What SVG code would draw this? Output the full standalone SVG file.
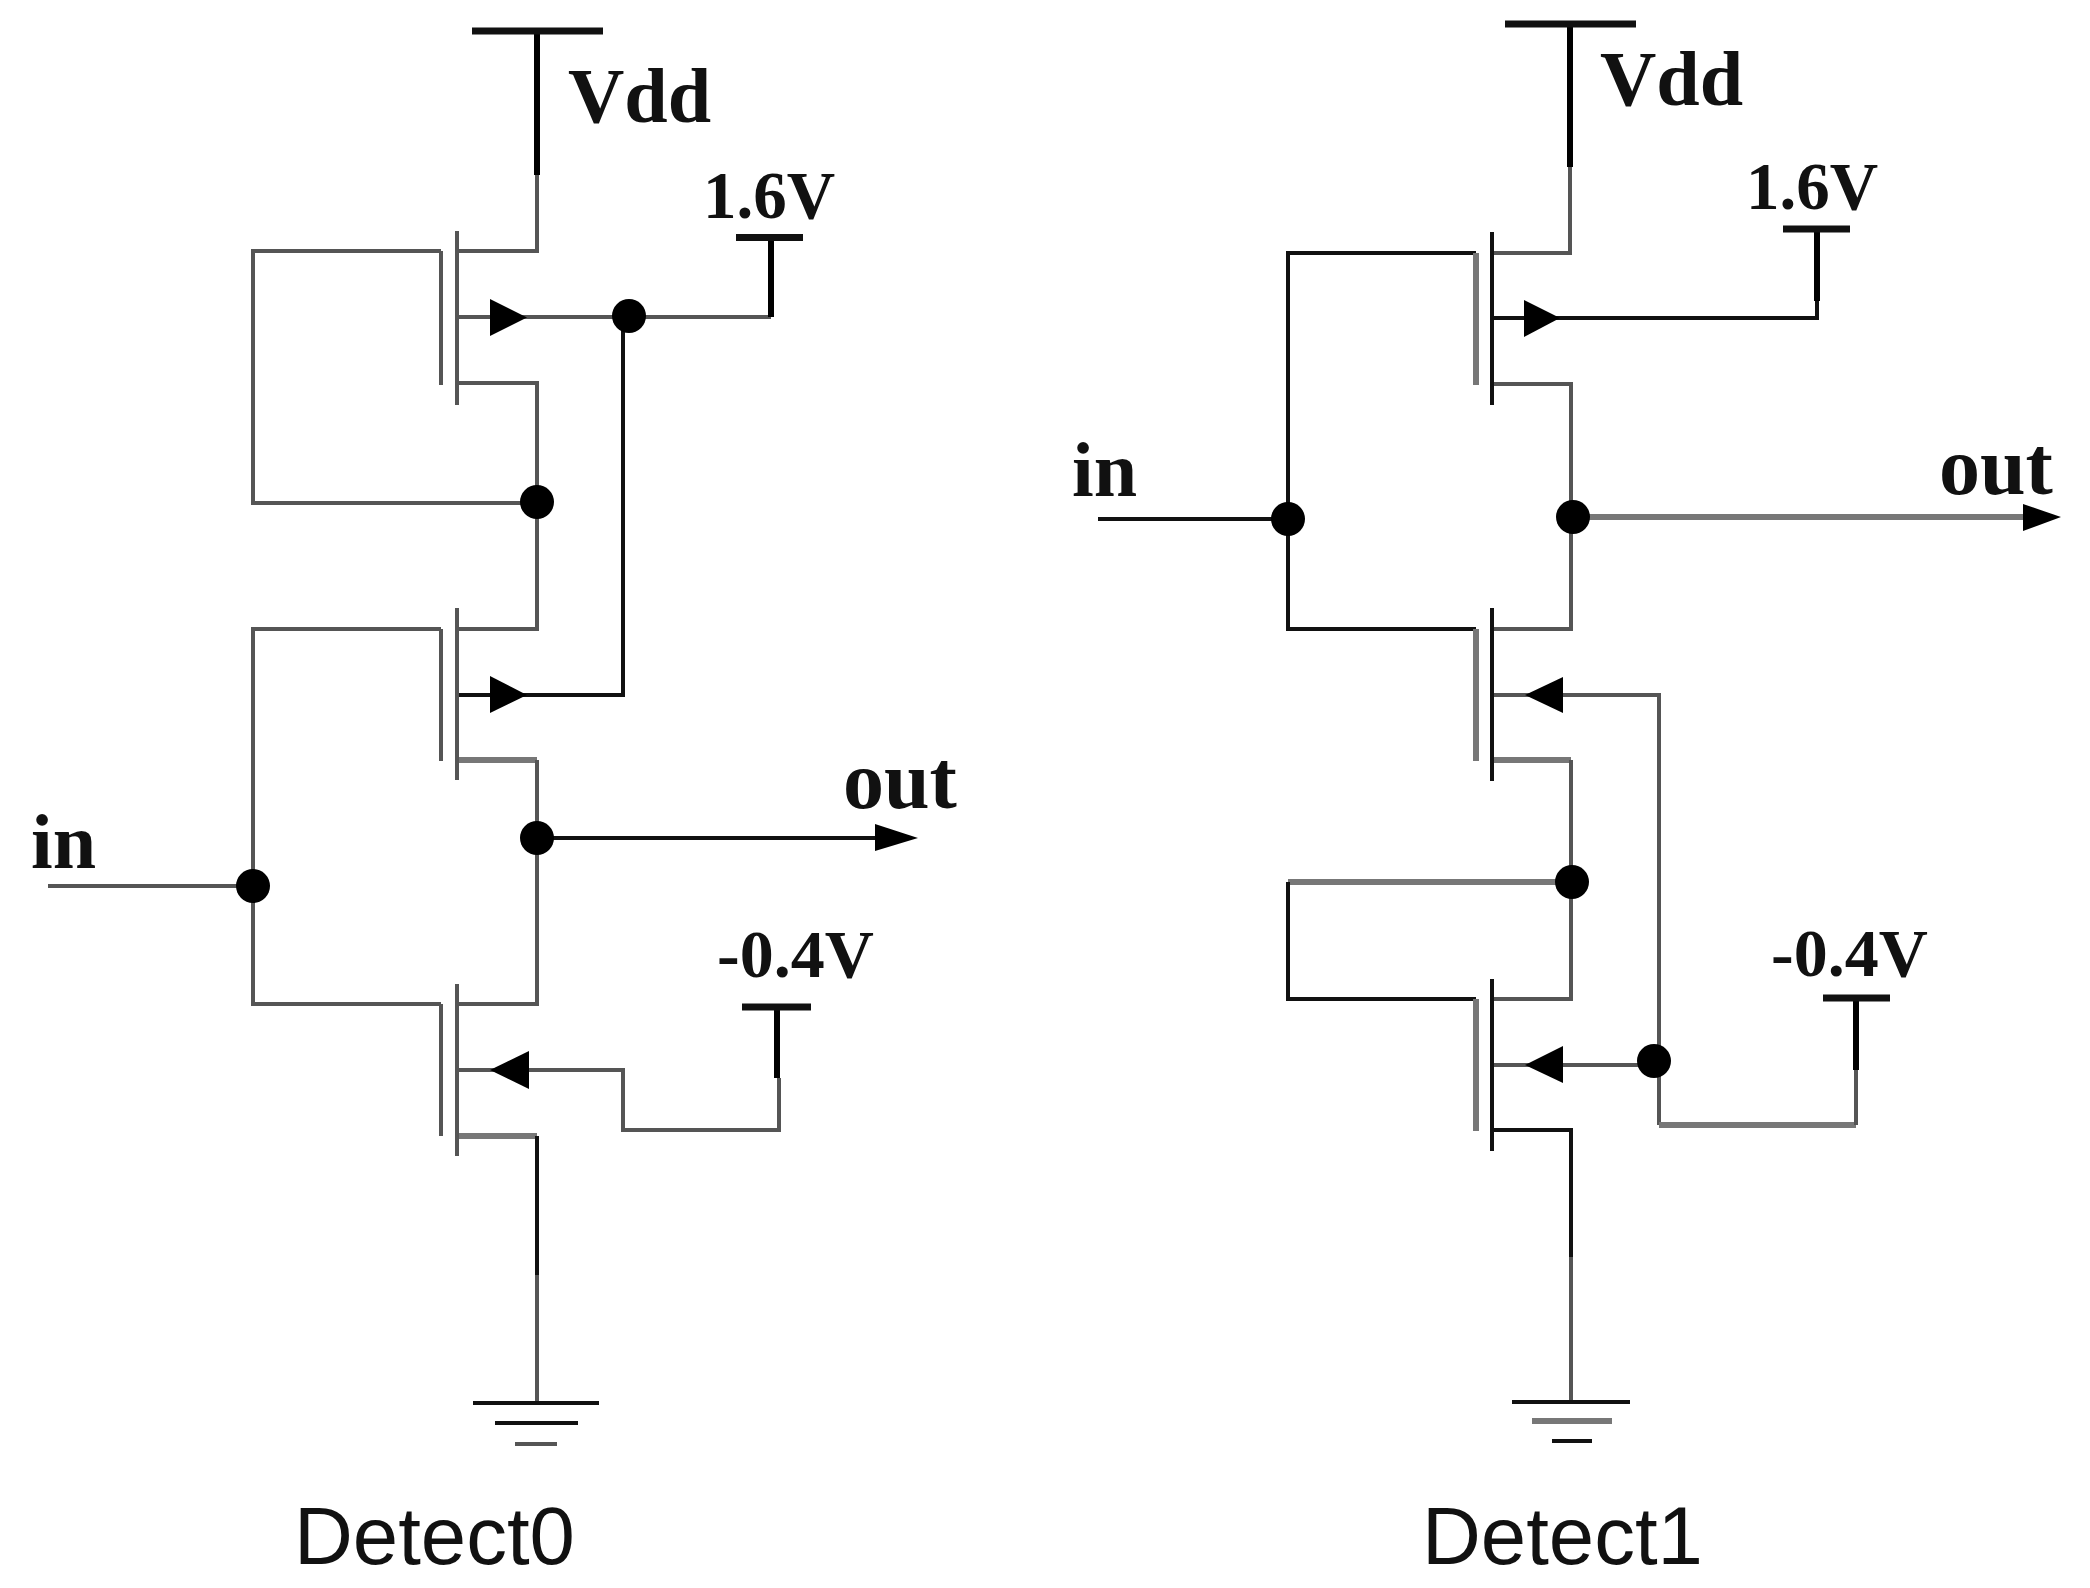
<svg xmlns="http://www.w3.org/2000/svg" width="2090" height="1588" viewBox="0 0 2090 1588">
<style>
.k{stroke:#111;stroke-width:4;fill:none}
.g{stroke:#555;stroke-width:4;fill:none}
.gt{stroke:#777;stroke-width:6;fill:none}
.kt{stroke:#000;stroke-width:6;fill:none}
.bar{stroke:#111;stroke-width:7;fill:none}
.dot,.tri{fill:#000;stroke:none}
.lab{font-family:"Liberation Serif","Times New Roman",serif;font-weight:bold;fill:#111}
.big{font-size:78px}
.out{font-size:82px}
.mid{font-size:67px}
.neg{font-size:68px}
.cap{font-family:"Liberation Sans",Arial,sans-serif;font-size:81.500px;fill:#111}
</style>
<rect width="2090" height="1588" fill="#fff"/>
<g id="connectors">
<!-- Detect0 -->
<path class="kt" d="M537 31V175"/>
<path class="g" d="M537 175V251H457"/>
<path class="g" d="M441 251H253V503H537"/>
<path class="g" d="M457 383H537V629H457"/>
<path class="g" d="M457 317H771"/>
<path class="kt" d="M771 237V317"/>
<path class="k" d="M623 317V695H457"/>
<path class="g" d="M441 629H253V1004H441"/>
<path class="gt" d="M457 760H537"/>
<path class="g" d="M537 760V1004H457"/>
<path class="k" d="M537 838H880"/>
<path class="g" d="M48 886H253"/>
<path class="g" d="M457 1070H623V1130H779V1078"/>
<path class="kt" d="M777 1007V1078"/>
<path class="gt" d="M457 1136H537"/>
<path class="k" d="M537 1136V1275"/>
<path class="g" d="M537 1275V1402"/>
<!-- Detect1 -->
<path class="kt" d="M1570 24V167"/>
<path class="g" d="M1570 167V253H1492"/>
<path class="k" d="M1476 253H1288V629H1476"/>
<path class="g" d="M1492 384H1571V629H1492"/>
<path class="k" d="M1492 318H1817V301"/>
<path class="kt" d="M1817 229V301"/>
<path class="k" d="M1098 519H1288"/>
<path class="gt" d="M1573 517H2030"/>
<path class="g" d="M1492 695H1659V1125"/>
<path class="gt" d="M1492 760H1571"/>
<path class="g" d="M1571 760V999H1492"/>
<path class="gt" d="M1288 882H1572"/>
<path class="k" d="M1288 882V999H1476"/>
<path class="g" d="M1492 1065H1654"/>
<path class="gt" d="M1659 1125H1856"/>
<path class="g" d="M1856 1125V1070"/>
<path class="kt" d="M1856 1070V998"/>
<path class="k" d="M1492 1130H1571V1257"/>
<path class="g" d="M1571 1257V1402"/>
</g>
<g id="vdd0"><path class="bar" d="M472 31H603"/><text class="lab big" x="568" y="122">Vdd</text></g>
<g id="v16-0"><path class="bar" d="M736 237.500H803"/><text class="lab mid" x="703" y="218">1.6V</text></g>
<g id="m1-0"><path class="g" d="M441 251V385"/><path class="g" d="M457 231V405"/><polygon class="tri" points="490,299 527,317.500 490,336"/></g>
<g id="m2-0"><path class="g" d="M441 629V761"/><path class="g" d="M457 608V780"/><polygon class="tri" points="490,676 527,695 490,713"/></g>
<g id="m3-0"><path class="g" d="M441 1004V1136"/><path class="g" d="M457 984V1156"/><polygon class="tri" points="529,1051 490,1070 529,1089"/></g>
<g id="j1-0"><circle class="dot" cx="629" cy="316" r="17"/></g>
<g id="j2-0"><circle class="dot" cx="537" cy="502" r="17"/></g>
<g id="j3-0"><circle class="dot" cx="537" cy="838" r="17"/></g>
<g id="j4-0"><circle class="dot" cx="253" cy="886" r="17"/></g>
<g id="out0"><polygon class="tri" points="875,824 918,838 875,851"/><text class="lab out" x="843" y="808">out</text></g>
<g id="in0"><text class="lab big" x="31" y="868">in</text></g>
<g id="vn04-0"><path class="bar" d="M742 1007H811"/><text class="lab neg" x="717" y="977">-0.4V</text></g>
<g id="gnd0"><path class="k" d="M473 1403H599"/><path class="k" d="M495 1423H578"/><path class="g" d="M515 1444H557"/></g>
<g id="cap0"><text class="cap" x="294" y="1564">Detect0</text></g>

<g id="vdd1"><path class="bar" d="M1505 24H1636"/><text class="lab big" x="1600" y="105">Vdd</text></g>
<g id="v16-1"><path class="bar" d="M1783 229H1850"/><text class="lab mid" x="1746" y="209">1.6V</text></g>
<g id="m1-1"><path class="gt" d="M1476 253V385"/><path class="k" d="M1492 232V405"/><polygon class="tri" points="1524,300 1560,318 1524,337"/></g>
<g id="m2-1"><path class="gt" d="M1476 629V761"/><path class="k" d="M1492 608V781"/><polygon class="tri" points="1563,677 1525,695 1563,713"/></g>
<g id="m3-1"><path class="gt" d="M1476 999V1131"/><path class="k" d="M1492 979V1151"/><polygon class="tri" points="1563,1046 1525,1065 1563,1083"/></g>
<g id="j1-1"><circle class="dot" cx="1288" cy="519" r="17"/></g>
<g id="j2-1"><circle class="dot" cx="1573" cy="517" r="17"/></g>
<g id="j3-1"><circle class="dot" cx="1572" cy="882" r="17"/></g>
<g id="j4-1"><circle class="dot" cx="1654" cy="1061" r="17"/></g>
<g id="out1"><polygon class="tri" points="2023,504 2061,517 2023,531"/><text class="lab out" x="1939" y="494">out</text></g>
<g id="in1"><text class="lab big" x="1072" y="496">in</text></g>
<g id="vn04-1"><path class="bar" d="M1823 998H1890"/><text class="lab neg" x="1771" y="976">-0.4V</text></g>
<g id="gnd1"><path class="k" d="M1512 1402H1630"/><path class="gt" d="M1532 1421H1612"/><path class="k" d="M1552 1441H1592"/></g>
<g id="cap1"><text class="cap" x="1422" y="1564">Detect1</text></g>
</svg>
